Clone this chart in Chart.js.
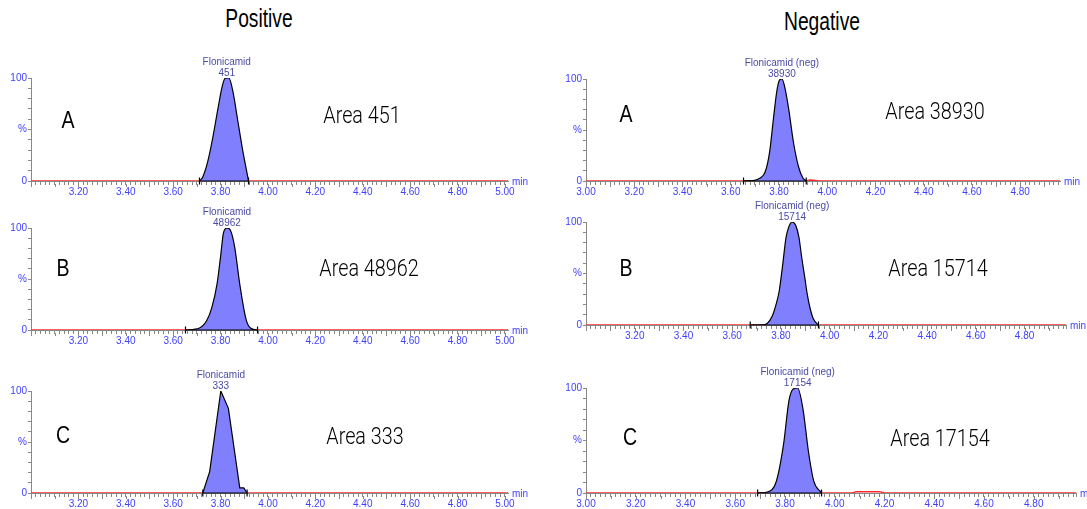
<!DOCTYPE html>
<html>
<head>
<meta charset="utf-8">
<script src="https://cdn.jsdelivr.net/npm/chart.js@4.4.0/dist/chart.umd.min.js"></script>
<style>
  html, body { margin: 0; background: #fff; overflow: hidden; }
  body { width: 1300px; height: 509px; position: relative; }
  .panel { position: absolute; }
  .txt { position: absolute; line-height: 1; white-space: nowrap; color: #000; }
  .title { font-family: 'Liberation Sans', Arial, sans-serif; font-size: 26px; }
  .letter { font-family: 'Liberation Sans', Arial, sans-serif; font-size: 23px; }
  .area { font-family: Roboto, 'Liberation Sans', sans-serif; font-weight: 300; font-size: 23px; }
</style>
</head>
<body>
<script>
// Column titles and per panel labels
const columnTitles = ['Positive', 'Negative'];
const sampleLetters = ['A', 'B', 'C', 'A', 'B', 'C'];
const peakNames = ['Flonicamid', 'Flonicamid', 'Flonicamid', 'Flonicamid (neg)', 'Flonicamid (neg)', 'Flonicamid (neg)'];
const peakAreas = [451, 48962, 333, 38930, 15714, 17154];

// Retention time axis (min) for each panel
const xMins = [3.0, 3.0, 3.0, 3.0, 3.0, 3.0];
const xMaxs = [5.013, 5.013, 5.013, 4.965, 4.97, 4.97];
const showStartLabel = [false, false, false, true, false, true];
const yTickLabels = { 0: '0', 50: '%', 100: '100' };

// Peak traces (time in min, relative intensity in %)
const posA_time = [3.711, 3.725, 3.746, 3.767, 3.788, 3.805, 3.817, 3.826, 3.835, 3.852, 3.873, 3.894, 3.908, 3.918];
const posA_pct  = [0, 4, 19, 42, 69, 90, 99, 100, 100, 87, 58, 29, 12, 0];
const posB_time = [3.652, 3.711, 3.741, 3.763, 3.785, 3.800, 3.812, 3.827, 3.841, 3.859, 3.881, 3.907, 3.926, 3.956];
const posB_pct  = [0, 2, 9, 22, 45, 72, 95, 100, 98, 82, 45, 11, 2, 0];
const posC_time = [3.725, 3.754, 3.801, 3.833, 3.881, 3.898, 3.912];
const posC_pct  = [0, 21, 100, 83, 5, 5, 0];
const negA_time = [3.653, 3.694, 3.722, 3.743, 3.761, 3.777, 3.791, 3.802, 3.812, 3.823, 3.840, 3.860, 3.881, 3.899, 3.913];
const negA_pct  = [0, 0.5, 3, 9, 28, 61, 88, 99, 100, 93, 71, 38, 14, 3, 0.3];
const negB_time = [3.674, 3.723, 3.744, 3.765, 3.779, 3.793, 3.807, 3.821, 3.832, 3.846, 3.860, 3.874, 3.885, 3.898, 3.908, 3.919, 3.933, 3.954];
const negB_pct  = [0, 0, 1.6, 9, 19, 33, 58, 85, 95, 100, 97, 85, 66, 46, 30, 17, 6, 0];
const negC_time = [3.690, 3.729, 3.765, 3.794, 3.816, 3.833, 3.851, 3.873, 3.894, 3.916, 3.944, 3.947];
const negC_pct  = [0, 1, 11, 46, 88, 99, 100, 79, 40, 11, 1, 0];

// Integration window of each peak
const integStart = [3.711, 3.652, 3.725, 3.653, 3.674, 3.690];
const integEnd   = [3.918, 3.956, 3.912, 3.913, 3.954, 3.947];

// Small baseline bumps in the raw trace
const negA_noiseTime = [3.913, 3.93, 3.95, 3.97];
const negA_noisePct  = [0.3, 1, 0.6, 0];
const negC_noiseTime = [4.07, 4.088, 4.181, 4.2];
const negC_noisePct  = [0, 1.3, 1.3, 0];

const peakTimes = [posA_time, posB_time, posC_time, negA_time, negB_time, negC_time];
const peakPcts = [posA_pct, posB_pct, posC_pct, negA_pct, negB_pct, negC_pct];
const noiseTimes = [[], [], [], negA_noiseTime, [], negC_noiseTime];
const noisePcts = [[], [], [], negA_noisePct, [], negC_noisePct];

// Page layout: y axis x, axis end x, pixel rows of 100% and 0%
const layout = [
    { ax: 31, ae: 508, y100: 78, y0: 181, letter: [68, 120], area: [362, 115] },
    { ax: 31, ae: 508, y100: 228, y0: 330, letter: [63, 268], area: [369, 268] },
    { ax: 31, ae: 508, y100: 391, y0: 493, letter: [63, 435], area: [365, 436] },
    { ax: 586, ae: 1060, y100: 79, y0: 181, letter: [626, 114], area: [935, 111] },
    { ax: 586, ae: 1066, y100: 222, y0: 325, letter: [626, 268], area: [938, 268] },
    { ax: 586, ae: 1076, y100: 388, y0: 493, letter: [630, 437], area: [940, 438] }
];
const titlePos = [[259, 18], [822, 21]];

const blue = '#4040ff';
const grey = '#888888';

function addText(cls, text, x, y, sx) {
    const d = document.createElement('div');
    d.className = 'txt ' + cls;
    d.textContent = text;
    d.style.left = x + 'px';
    d.style.top = y + 'px';
    d.style.transform = 'translate(-50%, -50%) scaleX(' + sx + ')';
    document.body.appendChild(d);
}

// Peak name and area above the apex
function peakLabelPlugin(i) {
    return {
        id: 'peakLabel' + i,
        afterDatasetsDraw(chart) {
            const pct = peakPcts[i];
            const apex = pct.indexOf(Math.max(...pct));
            const x = chart.scales.x.getPixelForValue(peakTimes[i][apex]);
            const top = chart.chartArea.top;
            const ctx = chart.ctx;
            ctx.save();
            ctx.font = '10px "Liberation Sans", Arial, sans-serif';
            ctx.fillStyle = '#4b4ba6';
            ctx.textAlign = 'center';
            ctx.textBaseline = 'alphabetic';
            ctx.fillText(peakNames[i], x, top - 13.5);
            ctx.fillText(String(peakAreas[i]), x, top - 2.5);
            ctx.restore();
        }
    };
}

// "min" unit after the axis end, and slightly longer ticks every 0.1 min
const axisExtrasPlugin = {
    id: 'axisExtras',
    afterDraw(chart) {
        const ctx = chart.ctx;
        const area = chart.chartArea;
        const xs = chart.scales.x;
        ctx.save();
        ctx.strokeStyle = grey;
        ctx.lineWidth = 1;
        ctx.beginPath();
        xs.ticks.forEach(t => {
            const k = t.value / 0.1;
            if (Math.abs(k - Math.round(k)) < 1e-6) {
                const px = Math.round(xs.getPixelForValue(t.value)) + 0.5;
                ctx.moveTo(px, area.bottom + 3);
                ctx.lineTo(px, area.bottom + 6);
            }
        });
        ctx.stroke();
        ctx.font = '10px "Liberation Sans", Arial, sans-serif';
        ctx.fillStyle = blue;
        ctx.textAlign = 'left';
        ctx.textBaseline = 'middle';
        ctx.fillText('min', area.right + 4, area.bottom + 1);
        ctx.restore();
    }
};

function buildPanel(i) {
    const L = layout[i];
    const padTop = 26, yW = 30, xH = 22, padR = 34;
    const w = yW + (L.ae - L.ax) + padR;
    const h = padTop + (L.y0 - L.y100) + xH;

    const div = document.createElement('div');
    div.className = 'panel';
    div.style.left = (L.ax - yW) + 'px';
    div.style.top = (L.y100 - padTop) + 'px';
    div.style.width = w + 'px';
    div.style.height = h + 'px';
    const canvas = document.createElement('canvas');
    canvas.width = w;
    canvas.height = h;
    canvas.style.width = w + 'px';
    canvas.style.height = h + 'px';
    div.appendChild(canvas);
    document.body.appendChild(div);

    const peak = peakTimes[i].map((t, k) => ({ x: t, y: peakPcts[i][k] }));
    const trace = [{ x: xMins[i], y: 0 }]
        .concat(noiseTimes[i].map((t, k) => ({ x: t, y: noisePcts[i][k] })))
        .concat([{ x: xMaxs[i], y: 0 }]);
    const base = [{ x: integStart[i], y: 0 }, { x: integEnd[i], y: 0 }];

    new Chart(canvas, {
        type: 'line',
        data: {
            datasets: [
                {
                    data: base,
                    borderColor: '#000',
                    borderWidth: 1.2,
                    pointStyle: 'line',
                    rotation: 90,
                    pointRadius: 3.5,
                    pointBorderColor: '#000',
                    pointBorderWidth: 1.2,
                    clip: false,
                    order: 1
                },
                {
                    data: peak,
                    fill: 'origin',
                    backgroundColor: '#8080ff',
                    borderColor: '#000',
                    borderWidth: 1.2,
                    pointRadius: 0,
                    cubicInterpolationMode: i === 2 ? 'default' : 'monotone',
                    tension: 0,
                    order: 2
                },
                {
                    data: trace,
                    borderColor: '#ff2a2a',
                    borderWidth: 1.5,
                    pointRadius: 0,
                    order: 3
                }
            ]
        },
        options: {
            responsive: false,
            animation: false,
            events: [],
            layout: { padding: { top: padTop, right: padR, left: 0, bottom: 0 } },
            plugins: { legend: { display: false }, tooltip: { enabled: false } },
            scales: {
                x: {
                    type: 'linear',
                    min: xMins[i],
                    max: xMaxs[i],
                    bounds: 'data',
                    afterFit(s) { s.height = xH; s.paddingLeft = 0; s.paddingRight = 0; },
                    border: { color: grey },
                    grid: { drawOnChartArea: false, tickLength: 4, tickColor: grey },
                    ticks: {
                        stepSize: 0.02,
                        includeBounds: false,
                        autoSkip: false,
                        maxRotation: 0,
                        padding: 1,
                        color: blue,
                        font: { size: 10, family: '"Liberation Sans", Arial, sans-serif' },
                        callback: function(v) {
                            if (Math.abs(v - xMins[i]) < 1e-6 && !showStartLabel[i]) return '';
                            const k = v / 0.2;
                            return Math.abs(k - Math.round(k)) < 1e-6 ? v.toFixed(2) : '';
                        }
                    }
                },
                y: {
                    min: 0,
                    max: 100,
                    afterFit(s) { s.width = yW; s.paddingTop = 0; s.paddingBottom = 0; },
                    border: { color: grey },
                    grid: { drawOnChartArea: false, tickLength: 3, tickColor: grey },
                    ticks: {
                        stepSize: 10,
                        autoSkip: false,
                        padding: 1,
                        color: blue,
                        font: { size: 10, family: '"Liberation Sans", Arial, sans-serif' },
                        callback: function(v) { return yTickLabels[v] !== undefined ? yTickLabels[v] : ''; }
                    }
                }
            }
        },
        plugins: [peakLabelPlugin(i), axisExtrasPlugin]
    });

    addText('letter', sampleLetters[i], L.letter[0], L.letter[1], 0.85);
    addText('area', 'Area ' + peakAreas[i], L.area[0], L.area[1], 0.86);
}

columnTitles.forEach((t, c) => addText('title', t, titlePos[c][0], titlePos[c][1], 0.74));
for (let i = 0; i < 6; i++) buildPanel(i);
</script>
</body>
</html>
